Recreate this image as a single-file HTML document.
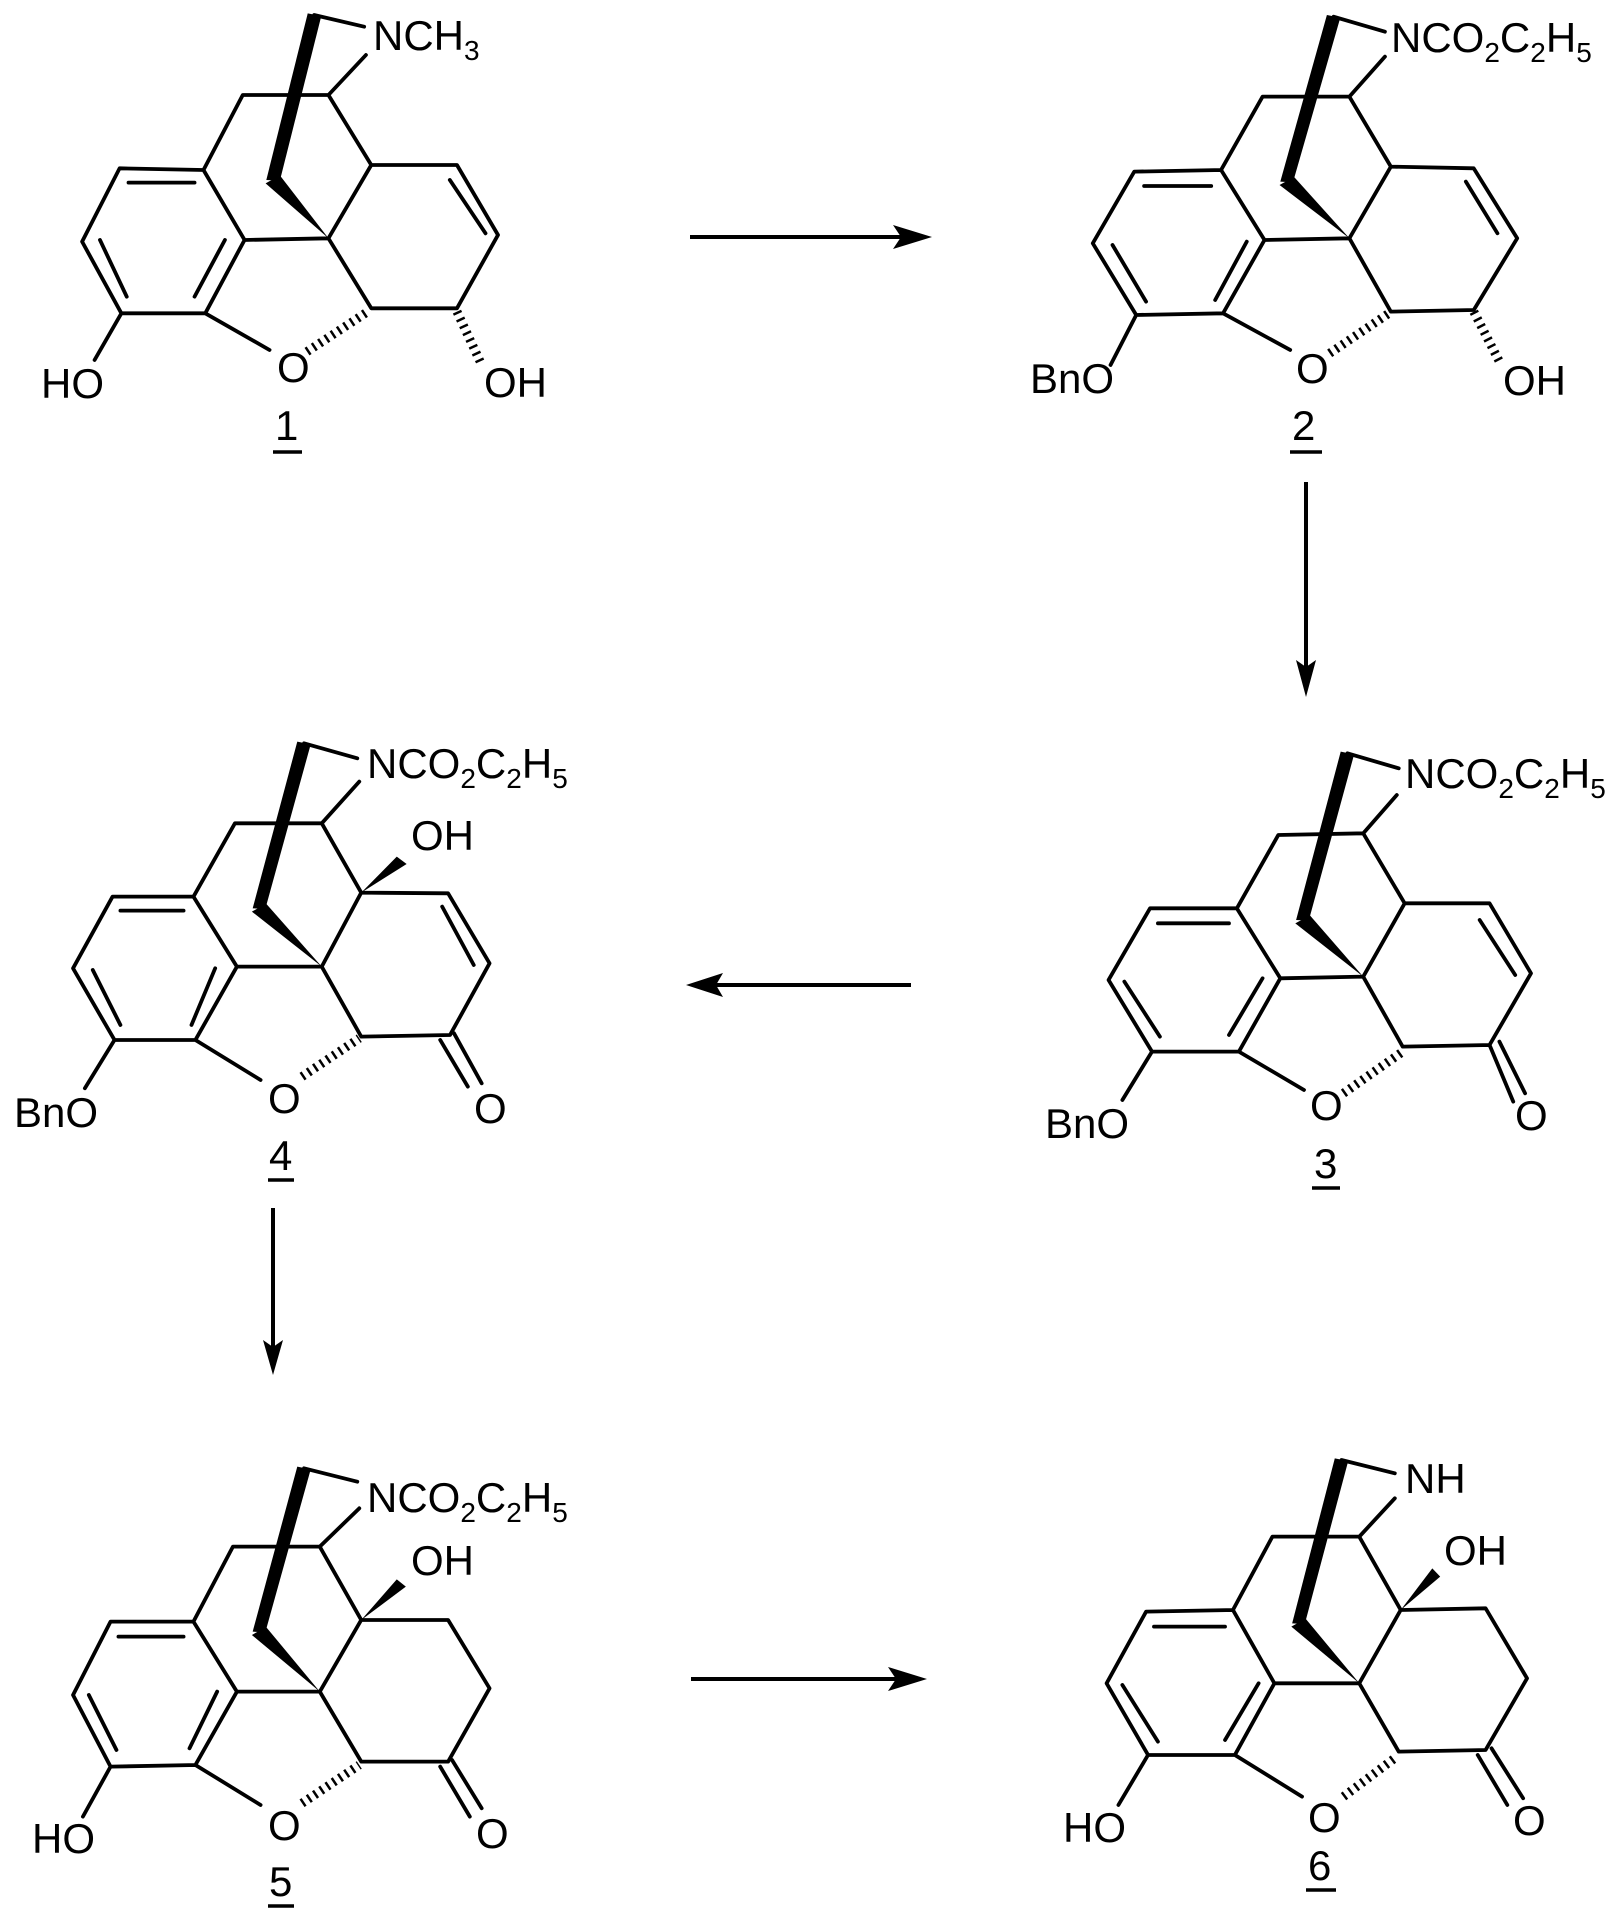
<!DOCTYPE html>
<html><head><meta charset="utf-8"><style>
html,body{margin:0;padding:0;background:#fff;}
svg{display:block;}
text{font-family:"Liberation Sans",Arial,sans-serif;font-size:42px;fill:#000;}
.b{fill:none;stroke:#000;stroke-width:3.8;stroke-linecap:round;stroke-linejoin:round;}
.h{fill:none;stroke:#000;stroke-width:9;stroke-dasharray:2.5 5;}
</style></head><body>
<svg width="1619" height="1911" viewBox="0 0 1619 1911" xmlns="http://www.w3.org/2000/svg">

<!-- Structure 1 -->
<g transform="translate(0,0) scale(0.357,0.3333)">
<path class="b" vector-effect="non-scaling-stroke" d="M880,45 L1020,80 M1025,165 L920,285 L680,285 L570,510 L335,505 L230,725 L340,940 L575,940 L685,720 L570,510 M685,720 L920,715 L1040,495 L920,285 M1040,495 L1280,495 L1395,705 L1280,925 L1040,925 L920,715 M360,548 L545,548 M280,720 L355,890 M630,720 L545,890 M1260,540 L1360,700 M575,940 L755,1050 M340,940 L265,1080"/>
<path class="h" vector-effect="non-scaling-stroke" d="M860,1055 L1030,935 M1280,935 L1345,1085"/>
<polygon points="862,40 900,48 784,542 746,540"/>
<polygon points="744,550 784,526 920,715"/>
</g>
<text x="373" y="50">NCH<tspan font-size="28" dy="10">3</tspan></text>
<text x="277" y="382">O</text>
<text x="41" y="398">HO</text>
<text x="484" y="397">OH</text>
<text x="275" y="440">1</text>
<line x1="273" y1="452" x2="302" y2="452" stroke="#000" stroke-width="3.5"/>

<!-- Structure 2 -->
<g transform="translate(1000,0) scale(0.3948,0.3333)">
<path class="b" vector-effect="non-scaling-stroke" d="M845,50 L975,95 M975,170 L885,290 L665,290 L560,510 L340,515 L235,730 L345,945 L565,940 L670,720 L560,510 M670,720 L885,715 L990,500 L885,290 M990,500 L1200,505 L1310,715 L1200,930 L990,935 L885,715 M365,558 L535,558 M285,735 L370,905 M625,725 L545,900 M1180,545 L1260,700 M565,940 L735,1050 M345,945 L280,1095"/>
<path class="h" vector-effect="non-scaling-stroke" d="M835,1060 L985,940 M1200,935 L1265,1085"/>
<polygon points="828,45 862,53 742,547 710,545"/>
<polygon points="708,555 745,531 885,715"/>
</g>
<text x="1391" y="52">NCO<tspan font-size="28" dy="10">2</tspan><tspan dy="-10">C</tspan><tspan font-size="28" dy="10">2</tspan><tspan dy="-10">H</tspan><tspan font-size="28" dy="10">5</tspan></text>
<text x="1030" y="393">BnO</text>
<text x="1296" y="383">O</text>
<text x="1503" y="395">OH</text>
<text x="1292" y="440">2</text>
<line x1="1290" y1="452" x2="1322" y2="452" stroke="#000" stroke-width="3.5"/>

<!-- Structure 3 -->
<g transform="translate(1000,720) scale(0.3948,0.3333)">
<path class="b" vector-effect="non-scaling-stroke" d="M880,100 L1010,145 M1005,225 L920,340 L705,345 L600,565 L380,565 L275,780 L385,995 L605,995 L710,775 L600,565 M710,775 L920,770 L1025,550 L920,340 M1025,550 L1240,550 L1345,760 L1240,975 L1020,980 L920,770 M400,610 L580,610 M315,785 L405,950 M665,775 L580,945 M1215,600 L1305,765 M1240,975 L1300,1145 M1265,965 L1330,1120 M605,995 L770,1110 M385,995 L310,1140"/>
<path class="h" vector-effect="non-scaling-stroke" d="M870,1120 L1020,995"/>
<polygon points="863,95 897,103 782,602 750,600"/>
<polygon points="748,610 785,586 920,770"/>
</g>
<text x="1405" y="788">NCO<tspan font-size="28" dy="10">2</tspan><tspan dy="-10">C</tspan><tspan font-size="28" dy="10">2</tspan><tspan dy="-10">H</tspan><tspan font-size="28" dy="10">5</tspan></text>
<text x="1310" y="1120">O</text>
<text x="1515" y="1130">O</text>
<text x="1045" y="1138">BnO</text>
<text x="1314" y="1178">3</text>
<line x1="1312" y1="1188" x2="1340" y2="1188" stroke="#000" stroke-width="3.5"/>

<!-- Structure 4 -->
<g transform="translate(0,700) scale(0.3948,0.3333)">
<path class="b" vector-effect="non-scaling-stroke" d="M770,130 L905,175 M910,245 L815,370 L595,370 L490,590 L285,590 L185,805 L290,1020 L495,1020 L600,800 L490,590 M600,800 L815,800 L915,578 L815,370 M915,578 L1135,580 L1240,790 L1140,1005 L915,1010 L815,800 M305,632 L465,632 M235,810 L305,975 M545,805 L485,975 M1120,620 L1200,795 M1115,1020 L1185,1160 M1150,1000 L1220,1150 M495,1020 L660,1140 M290,1020 L215,1165"/>
<path class="h" vector-effect="non-scaling-stroke" d="M765,1130 L910,1015"/>
<polygon points="753,125 787,133 672,627 640,625"/>
<polygon points="638,635 674,611 815,800"/>
<polygon points="915,578 1005,470 1030,492"/>
</g>
<text x="367" y="778">NCO<tspan font-size="28" dy="10">2</tspan><tspan dy="-10">C</tspan><tspan font-size="28" dy="10">2</tspan><tspan dy="-10">H</tspan><tspan font-size="28" dy="10">5</tspan></text>
<text x="411" y="850">OH</text>
<text x="474" y="1123">O</text>
<text x="268" y="1113">O</text>
<text x="14" y="1127">BnO</text>
<text x="269" y="1170">4</text>
<line x1="268" y1="1180" x2="294" y2="1180" stroke="#000" stroke-width="3.5"/>

<!-- Structure 5 -->
<g transform="translate(0,1440) scale(0.3948,0.3333)">
<path class="b" vector-effect="non-scaling-stroke" d="M770,85 L905,125 M910,205 L810,320 L590,320 L490,545 L280,545 L185,765 L280,980 L495,975 L600,755 L490,545 M600,755 L810,755 L915,540 L810,320 M915,540 L1135,540 L1240,745 L1135,965 L915,965 L810,755 M300,590 L465,590 M225,765 L295,930 M550,755 L480,925 M1115,980 L1190,1130 M1145,960 L1220,1105 M495,975 L660,1095 M280,980 L210,1130"/>
<path class="h" vector-effect="non-scaling-stroke" d="M765,1090 L910,975"/>
<polygon points="753,80 787,88 672,577 640,575"/>
<polygon points="638,585 674,561 810,755"/>
<polygon points="915,540 1005,418 1028,440"/>
</g>
<text x="367" y="1512">NCO<tspan font-size="28" dy="10">2</tspan><tspan dy="-10">C</tspan><tspan font-size="28" dy="10">2</tspan><tspan dy="-10">H</tspan><tspan font-size="28" dy="10">5</tspan></text>
<text x="411" y="1575">OH</text>
<text x="476" y="1848">O</text>
<text x="268" y="1840">O</text>
<text x="32" y="1853">HO</text>
<text x="269" y="1896">5</text>
<line x1="268" y1="1906" x2="294" y2="1906" stroke="#000" stroke-width="3.5"/>

<!-- Structure 6 -->
<g transform="translate(1000,1440) scale(0.3948,0.3333)">
<path class="b" vector-effect="non-scaling-stroke" d="M865,60 L1000,100 M1000,175 L910,290 L690,290 L590,510 L370,515 L270,730 L375,945 L595,945 L695,730 L590,510 M695,730 L910,730 L1015,510 L910,290 M1015,510 L1230,505 L1335,715 L1230,930 L1010,935 L910,730 M390,560 L570,560 M310,735 L400,905 M655,730 L570,900 M1210,945 L1285,1095 M1245,925 L1325,1075 M595,945 L765,1070 M375,945 L300,1095"/>
<path class="h" vector-effect="non-scaling-stroke" d="M870,1070 L1005,950"/>
<polygon points="848,55 882,63 772,552 740,550"/>
<polygon points="738,560 774,536 910,730"/>
<polygon points="1015,510 1095,385 1115,410"/>
</g>
<text x="1405" y="1493">NH</text>
<text x="1444" y="1565">OH</text>
<text x="1513" y="1835">O</text>
<text x="1308" y="1832">O</text>
<text x="1063" y="1842">HO</text>
<text x="1308" y="1880">6</text>
<line x1="1306" y1="1890" x2="1336" y2="1890" stroke="#000" stroke-width="3.5"/>

<!-- Arrows -->
<g stroke="#000" stroke-width="4" fill="none">
<line x1="690" y1="237" x2="905" y2="237"/>
<line x1="1306" y1="482" x2="1306" y2="670"/>
<line x1="911" y1="985" x2="712" y2="985"/>
<line x1="273" y1="1208" x2="273" y2="1350"/>
<line x1="691" y1="1679" x2="900" y2="1679"/>
</g>
<g fill="#000">
<polygon points="932,237 893,225 901,237 893,249"/>
<polygon points="1306,697 1296,660 1306,667 1316,660"/>
<polygon points="686,985 723,973 716,985 723,997"/>
<polygon points="273,1375 263,1340 273,1347 283,1340"/>
<polygon points="927,1679 888,1667 896,1679 888,1691"/>
</g>
</svg>
</body></html>
